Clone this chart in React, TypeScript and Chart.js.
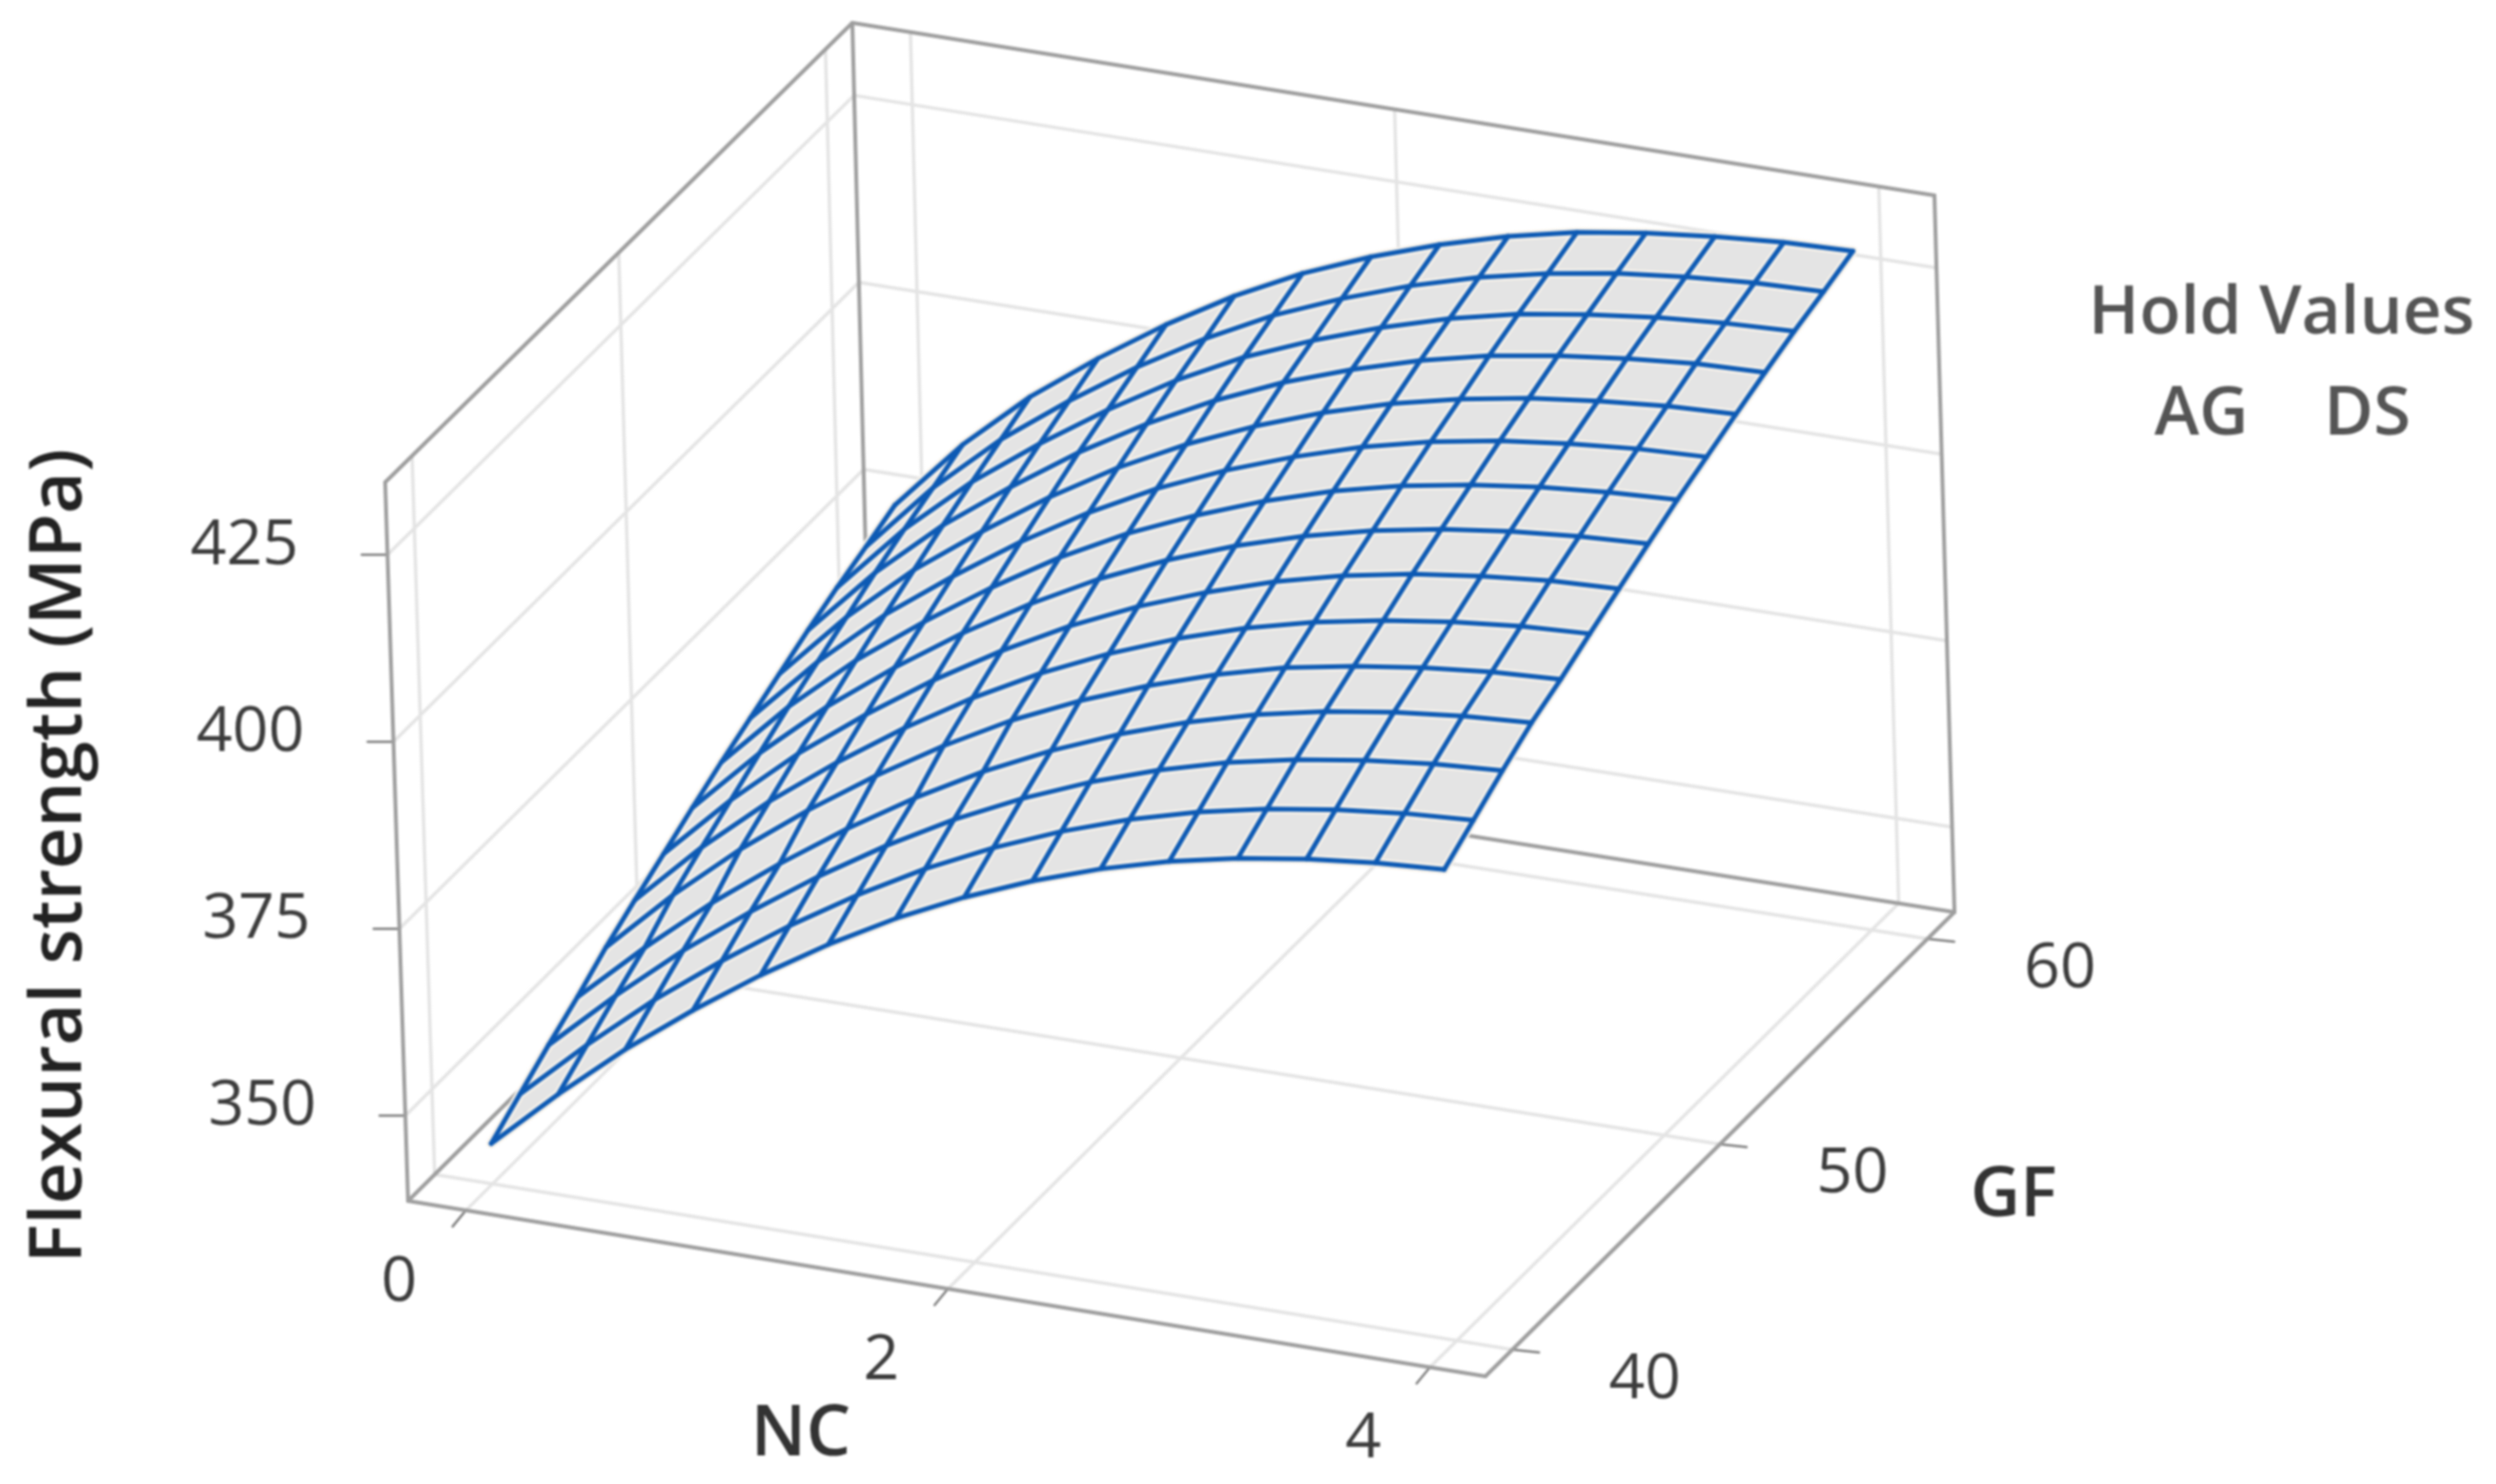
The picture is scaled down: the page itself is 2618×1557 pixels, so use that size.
import React, { useEffect, useRef } from "react";
import { Chart, registerables } from "chart.js";

Chart.register(...registerables);

const ncValues = [0, 0.2857, 0.5714, 0.8571, 1.1429, 1.4286, 1.7143, 2, 2.2857, 2.5714, 2.8571, 3.1429, 3.4286, 3.7143, 4];
const gfValues = [40, 41.43, 42.86, 44.29, 45.71, 47.14, 48.57, 50, 51.43, 52.86, 54.29, 55.71, 57.14, 58.57, 60];
// Flexural strength (MPa): one row per GF value, one column per NC value
const strength = [
  [344.0, 352.1, 359.6, 366.3, 372.5, 378.1, 383.1, 387.4, 391.1, 394.2, 396.7, 398.6, 400.0, 401.0, 401.6],
  [346.7, 354.8, 362.3, 369.0, 375.2, 380.8, 385.8, 390.1, 393.8, 396.9, 399.4, 401.3, 402.7, 403.7, 404.3],
  [349.4, 357.5, 365.0, 371.7, 377.9, 383.5, 388.5, 392.8, 396.5, 399.6, 402.1, 404.0, 405.4, 406.4, 407.0],
  [351.9, 360.0, 367.5, 374.2, 380.4, 386.0, 391.0, 395.3, 399.0, 402.1, 404.6, 406.5, 407.9, 408.9, 409.5],
  [354.7, 363.2, 370.8, 377.5, 383.6, 389.1, 394.0, 398.1, 401.6, 404.6, 407.0, 408.7, 410.0, 410.9, 411.4],
  [357.1, 365.7, 373.3, 380.0, 386.1, 391.6, 396.4, 400.5, 404.0, 406.9, 409.2, 410.9, 412.2, 413.1, 413.6],
  [359.4, 368.1, 375.8, 382.5, 388.6, 394.0, 398.8, 402.9, 406.3, 409.2, 411.5, 413.2, 414.4, 415.3, 415.7],
  [361.7, 370.5, 378.2, 384.9, 391.0, 396.4, 401.2, 405.2, 408.6, 411.4, 413.6, 415.3, 416.5, 417.3, 417.8],
  [363.9, 372.8, 380.5, 387.1, 393.2, 398.7, 403.4, 407.3, 410.7, 413.5, 415.7, 417.3, 418.5, 419.3, 419.8],
  [365.9, 374.9, 382.7, 389.3, 395.4, 400.8, 405.5, 409.4, 412.7, 415.5, 417.7, 419.3, 420.4, 421.2, 421.6],
  [367.9, 377.0, 384.8, 391.4, 397.5, 402.9, 407.5, 411.4, 414.7, 417.4, 419.5, 421.1, 422.2, 423.0, 423.4],
  [369.9, 379.1, 386.9, 393.5, 399.6, 404.9, 409.5, 413.4, 416.6, 419.3, 421.4, 422.9, 424.0, 424.8, 425.1],
  [371.7, 381.0, 388.8, 395.4, 401.4, 406.8, 411.4, 415.1, 418.3, 421.0, 423.1, 424.5, 425.6, 426.3, 426.7],
  [373.3, 382.7, 390.6, 397.2, 403.2, 408.5, 413.1, 416.8, 420.0, 422.6, 424.6, 426.1, 427.1, 427.8, 428.1],
  [375.0, 384.5, 392.4, 399.0, 405.0, 410.3, 414.8, 418.5, 421.6, 424.2, 426.2, 427.6, 428.6, 429.3, 429.6],
];

const ncTicks = [0, 2, 4];
const gfTicks = [40, 50, 60];
const strengthTicks = [350, 375, 400, 425];
const yTitle = "Flexural strength (MPa)";
const ncTitle = "NC";
const gfTitle = "GF";
const holdTitle = "Hold Values";
const holdNames = ["AG", "DS"];

// axis ranges of the 3D box
const NC_MIN = -0.24, NC_MAX = 4.23;
const GF_MIN = 38.7, GF_MAX = 61.3;
const Z_MIN = 338.6, Z_MAX = 434.7;

// screen position of the 8 corners of the box [nc][gf][z]
const CORNERS = {
  "000": [428, 1260], "100": [1558, 1444], "010": [913, 778], "110": [2050, 957],
  "001": [404, 506], "101": [1538, 690], "011": [894, 24], "111": [2029, 205],
};

function project(nc: number, gf: number, z: number) {
  const u = (nc - NC_MIN) / (NC_MAX - NC_MIN);
  const v = (gf - GF_MIN) / (GF_MAX - GF_MIN);
  const w = (z - Z_MIN) / (Z_MAX - Z_MIN);
  let x = 0, y = 0;
  for (const a of [0, 1]) for (const b of [0, 1]) for (const c of [0, 1]) {
    const k = (a ? u : 1 - u) * (b ? v : 1 - v) * (c ? w : 1 - w);
    const p = CORNERS[`${a}${b}${c}`];
    x += k * p[0];
    y += k * p[1];
  }
  return { x, y };
}

const GRID = "#e4e4e4";
const BOX = "#9e9e9e";
const TICK = "#808080";
const BLUE = "#0d5ab4";
const HALO = "#f7f2ea";
const FILL = "#e4e4e4";
const FONT = '"Open Sans", "Noto Sans", sans-serif';

function line(data: any[], color: string, width: number, order: number) {
  return { data, showLine: true, borderColor: color, borderWidth: width, pointRadius: 0, fill: false, order, borderJoinStyle: "round", borderCapStyle: "round" };
}

function buildDatasets() {
  const ds: any[] = [];
  const seg = (a: number[], b: number[], color: string, w: number, order: number) =>
    ds.push(line([project(a[0], a[1], a[2]), project(b[0], b[1], b[2])], color, w, order));

  // wall and floor grid
  for (const n of ncTicks) {
    seg([n, GF_MIN, Z_MIN], [n, GF_MAX, Z_MIN], GRID, 3.5, 6);
    seg([n, GF_MAX, Z_MIN], [n, GF_MAX, Z_MAX], GRID, 3.5, 6);
  }
  for (const g of gfTicks) {
    seg([NC_MIN, g, Z_MIN], [NC_MAX, g, Z_MIN], GRID, 3.5, 6);
    seg([NC_MIN, g, Z_MIN], [NC_MIN, g, Z_MAX], GRID, 3.5, 6);
  }
  for (const t of strengthTicks) {
    seg([NC_MIN, GF_MIN, t], [NC_MIN, GF_MAX, t], GRID, 3.5, 6);
    seg([NC_MIN, GF_MAX, t], [NC_MAX, GF_MAX, t], GRID, 3.5, 6);
  }
  // box outline
  const boxEdges = [
    [[NC_MIN, GF_MIN, Z_MIN], [NC_MAX, GF_MIN, Z_MIN]],
    [[NC_MAX, GF_MIN, Z_MIN], [NC_MAX, GF_MAX, Z_MIN]],
    [[NC_MAX, GF_MAX, Z_MIN], [NC_MIN, GF_MAX, Z_MIN]],
    [[NC_MIN, GF_MAX, Z_MIN], [NC_MIN, GF_MIN, Z_MIN]],
    [[NC_MIN, GF_MIN, Z_MIN], [NC_MIN, GF_MIN, Z_MAX]],
    [[NC_MIN, GF_MAX, Z_MIN], [NC_MIN, GF_MAX, Z_MAX]],
    [[NC_MAX, GF_MAX, Z_MIN], [NC_MAX, GF_MAX, Z_MAX]],
    [[NC_MIN, GF_MIN, Z_MAX], [NC_MIN, GF_MAX, Z_MAX]],
    [[NC_MIN, GF_MAX, Z_MAX], [NC_MAX, GF_MAX, Z_MAX]],
  ];
  for (const e of boxEdges) seg(e[0], e[1], BOX, 4, 5);

  // tick marks
  for (const t of strengthTicks) {
    const p = project(NC_MIN, GF_MIN, t);
    ds.push(line([p, { x: p.x - 27, y: p.y }], TICK, 2.5, 5));
  }
  for (const n of ncTicks) {
    const p = project(n, GF_MIN, Z_MIN);
    ds.push(line([p, { x: p.x - 14, y: p.y + 17 }], TICK, 2.5, 5));
  }
  for (const g of gfTicks) {
    const p = project(NC_MAX, g, Z_MIN);
    ds.push(line([p, { x: p.x + 28, y: p.y + 3 }], TICK, 2.5, 5));
  }

  // surface outline fill
  const last = gfValues.length - 1;
  const lastN = ncValues.length - 1;
  const outline: any[] = [];
  ncValues.forEach((n, i) => outline.push(project(n, gfValues[0], strength[0][i])));
  gfValues.forEach((g, j) => outline.push(project(ncValues[lastN], g, strength[j][lastN])));
  for (let i = lastN; i >= 0; i--) outline.push(project(ncValues[i], gfValues[last], strength[last][i]));
  for (let j = last; j >= 0; j--) outline.push(project(ncValues[0], gfValues[j], strength[j][0]));
  ds.push({ ...line(outline, FILL, 0, 4), fill: "shape", backgroundColor: FILL, borderWidth: 0 });

  // mesh
  const rows = gfValues.map((g, j) => ncValues.map((n, i) => project(n, g, strength[j][i])));
  const cols = ncValues.map((n, i) => gfValues.map((g, j) => project(n, g, strength[j][i])));
  for (const r of [...rows, ...cols]) ds.push(line(r, HALO, 10, 3));
  for (const r of [...rows, ...cols]) ds.push(line(r, BLUE, 5, 2));
  return ds;
}

const textPlugin = {
  id: "boxText",
  afterDraw(chart: any) {
    const ctx = chart.ctx;
    ctx.save();
    ctx.textAlign = "center";
    ctx.textBaseline = "middle";
    const put = (s: string, x: number, y: number, font: string, color: string, rot = 0) => {
      ctx.save();
      ctx.translate(x, y);
      if (rot) ctx.rotate(rot);
      ctx.font = font;
      ctx.fillStyle = color;
      ctx.fillText(s, 0, 0);
      ctx.restore();
    };
    const tickFont = `400 66px ${FONT}`;
    for (const t of strengthTicks) {
      const p = project(NC_MIN, GF_MIN, t);
      put(String(t), p.x - 150, p.y - 9, tickFont, "#3c3c3c");
    }
    for (const n of ncTicks) {
      const p = project(n, GF_MIN, Z_MIN);
      put(String(n), p.x - 70, p.y + 76, tickFont, "#3c3c3c");
    }
    for (const g of gfTicks) {
      const p = project(NC_MAX, g, Z_MIN);
      put(String(g), p.x + 139, p.y + 32, tickFont, "#3c3c3c");
    }
    put(yTitle, 63, 898, `600 76px ${FONT}`, "#222", -Math.PI / 2);
    put(ncTitle, 840, 1506, `600 74px ${FONT}`, "#333");
    put(gfTitle, 2112, 1255, `600 72px ${FONT}`, "#333");
    put(holdTitle, 2393, 330, `600 71px ${FONT}`, "#555");
    put(holdNames[0], 2309, 436, `600 71px ${FONT}`, "#555");
    put(holdNames[1], 2483, 436, `600 71px ${FONT}`, "#555");
    ctx.restore();
  },
};

export default function App() {
  const ref = useRef<HTMLCanvasElement | null>(null);
  useEffect(() => {
    const chart = new Chart(ref.current as any, {
      type: "scatter",
      data: { datasets: buildDatasets() },
      plugins: [textPlugin],
      options: {
        animation: false,
        responsive: false,
        layout: { padding: 0 },
        plugins: { legend: { display: false }, tooltip: { enabled: false }, title: { display: false } },
        scales: {
          x: { type: "linear", min: 0, max: 2618, display: false },
          y: { type: "linear", min: 0, max: 1557, reverse: true, display: false },
        },
      },
    } as any);
    return () => chart.destroy();
  }, []);
  return (
    <div style={{ position: "absolute", left: 0, top: 0, width: 2618, height: 1557, overflow: "hidden", background: "#fff" }}>
      <canvas ref={ref} width={2618} height={1557} style={{ display: "block", filter: "blur(1.1px)" }} />
    </div>
  );
}
